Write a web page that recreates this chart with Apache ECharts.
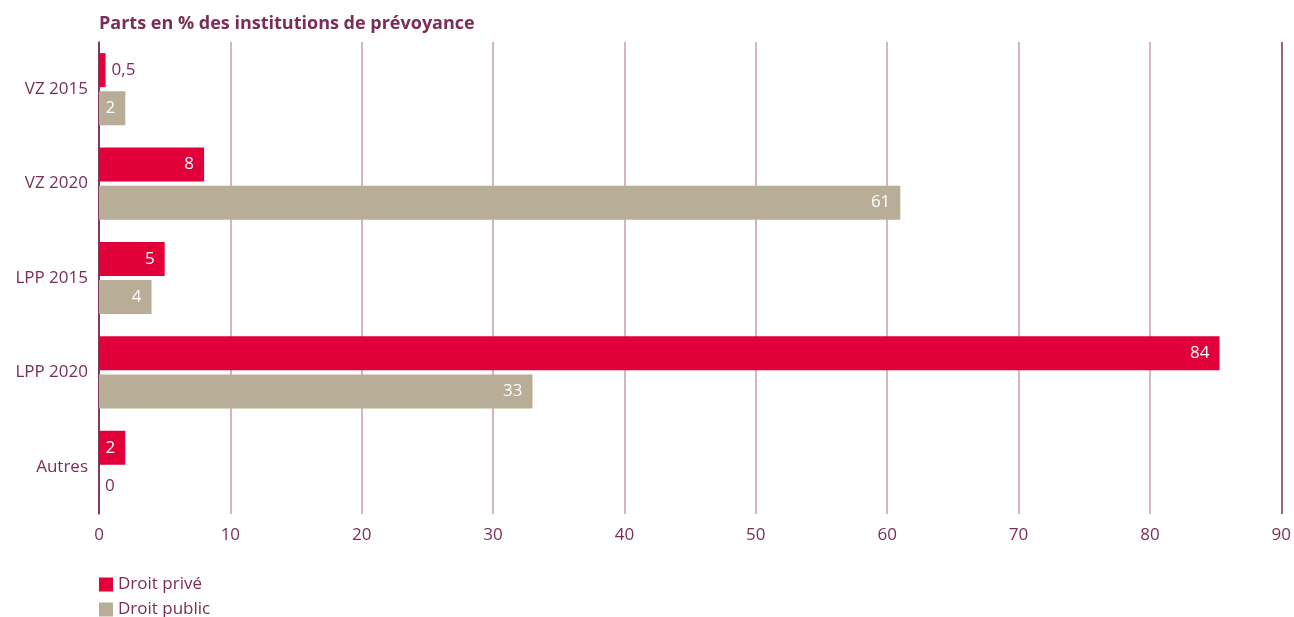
<!DOCTYPE html>
<html>
<head>
<meta charset="utf-8">
<style>
  html, body { margin: 0; padding: 0; background: #fff; }
  #chart { width: 1294px; height: 617px; }
</style>
<script src="https://cdn.jsdelivr.net/npm/echarts@6/dist/echarts.min.js"></script>
</head>
<body>
<div id="chart"></div>
<script>
// categories, top to bottom
var categories = ['VZ 2015', 'VZ 2020', 'LPP 2015', 'LPP 2020', 'Autres'];
var seriesNames = ['Droit privé', 'Droit public'];
// bar lengths as drawn
var priveValues = [0.5, 8, 5, 85.3, 2];
var publicValues = [2, 61, 4, 33, 0];
// printed labels
var priveLabels = ['0,5', '8', '5', '84', '2'];
var publicLabels = ['2', '61', '4', '33', '0'];
var xTicks = [0, 10, 20, 30, 40, 50, 60, 70, 80, 90];

var textColor = '#7b2d55';
var font = '"Open Sans", "Noto Sans", sans-serif';

function buildData(values, labels) {
  return values.map(function (v, i) {
    var small = v < 1;
    return {
      value: v,
      label: {
        show: true,
        formatter: labels[i],
        position: small ? 'right' : 'insideRight',
        distance: small ? 6 : 10,
        color: small ? textColor : '#fff',
        fontSize: 17,
        fontFamily: font
      }
    };
  });
}

function legendFor(name, top) {
  return {
    data: [name],
    orient: 'vertical',
    left: 94,
    top: top,
    itemWidth: 14,
    itemHeight: 14,
    itemGap: 0,
    icon: 'rect',
    textStyle: { color: textColor, fontSize: 17, fontFamily: font }
  };
}

var myChart = echarts.init(document.getElementById('chart'));
myChart.setOption({
  animation: false,
  title: {
    text: 'Parts en % des institutions de prévoyance',
    left: 94,
    top: 10,
    textStyle: {
      color: textColor,
      fontSize: 18,
      fontWeight: 'bold',
      fontFamily: font
    }
  },
  color: ['#e1003a', '#b8ad96'],
  legend: [legendFor(seriesNames[0], 571), legendFor(seriesNames[1], 596)],
  grid: {
    left: 99,
    right: 12,
    top: 42,
    height: 472,
    containLabel: false
  },
  xAxis: {
    type: 'value',
    min: xTicks[0],
    max: xTicks[xTicks.length - 1],
    interval: 10,
    axisLine: { show: false },
    axisTick: { show: false },
    axisLabel: {
      color: textColor,
      fontSize: 17,
      fontFamily: font,
      margin: 13
    },
    splitLine: {
      show: true,
      lineStyle: {
        width: 1.5,
        color: ['#7b2d55', '#c99bb1', '#c99bb1', '#c99bb1', '#c99bb1',
                '#c99bb1', '#c99bb1', '#c99bb1', '#c99bb1', '#7b2d55']
      }
    }
  },
  yAxis: {
    type: 'category',
    inverse: true,
    data: categories,
    axisLine: { show: true, lineStyle: { color: textColor, width: 1.5 } },
    axisTick: { show: false },
    axisLabel: {
      color: textColor,
      fontSize: 17,
      fontFamily: font,
      margin: 11
    }
  },
  series: [
    {
      name: seriesNames[0],
      type: 'bar',
      barWidth: 34,
      barGap: '12%',
      data: buildData(priveValues, priveLabels)
    },
    {
      name: seriesNames[1],
      type: 'bar',
      barWidth: 34,
      barGap: '12%',
      data: buildData(publicValues, publicLabels)
    }
  ]
});
</script>
</body>
</html>
